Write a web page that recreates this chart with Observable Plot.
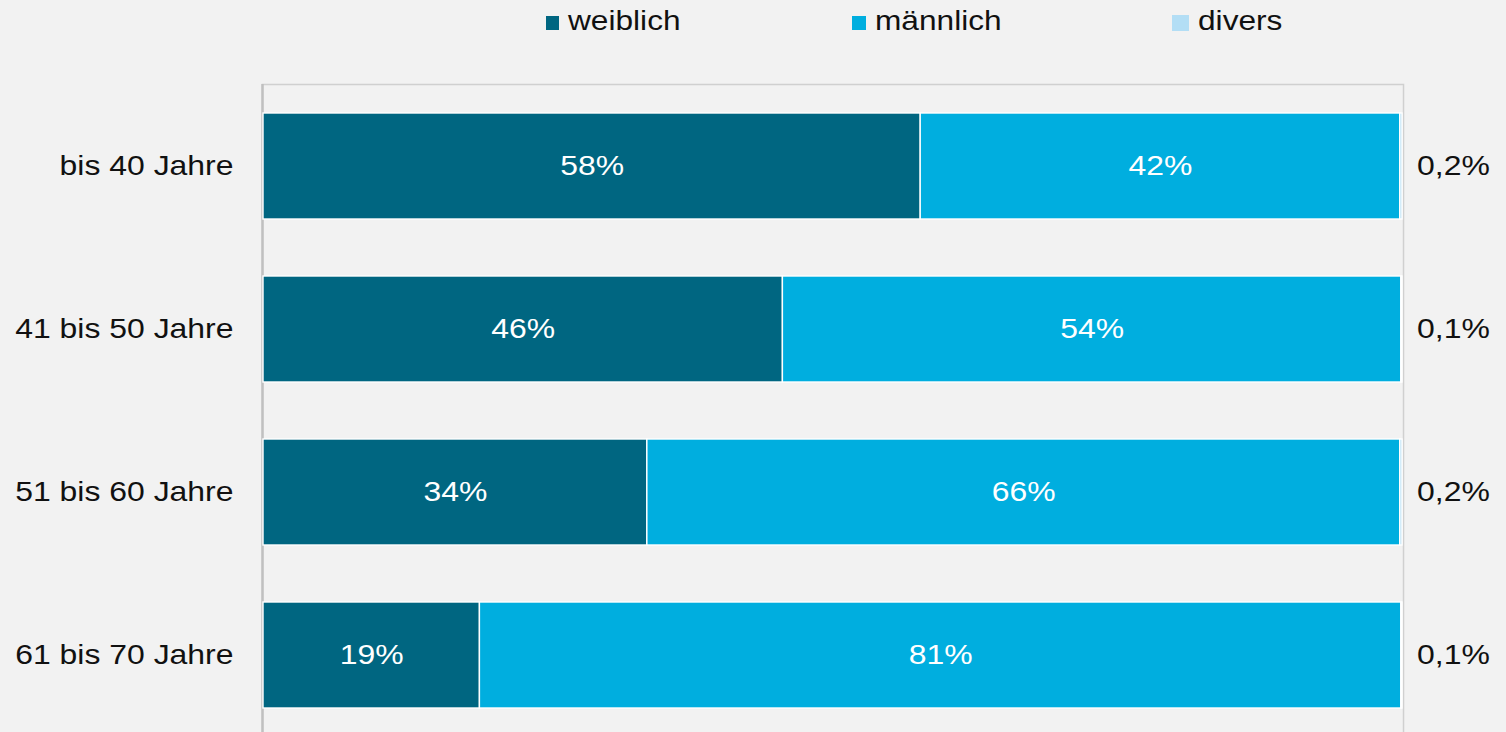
<!DOCTYPE html>
<html>
<head>
<meta charset="utf-8">
<script src="https://cdn.jsdelivr.net/npm/d3@7"></script>
<script src="https://cdn.jsdelivr.net/npm/@observablehq/plot@0.6"></script>
<style>
  html, body { margin: 0; padding: 0; background: #f2f2f2; overflow: hidden; }
  body { font-family: "Liberation Sans", Arial, sans-serif; width: 1506px; height: 732px; }
  #legend { position: relative; height: 60px; width: 1506px; }
  .item { position: absolute; top: 3px; height: 36px; display: flex; align-items: center; font-size: 28px; color: #111; }
  .sw { display: inline-block; margin-right: 9px; margin-top: 3px; }
  .lt { display: inline-block; transform: scaleX(1.13); transform-origin: 0 50%; }
  #chart svg { display: block; }
  #chart svg text { font-size: 28px; }
</style>
</head>
<body>
<div id="legend"></div>
<div id="chart"></div>
<script>
// Data
const ages = ["bis 40 Jahre", "41 bis 50 Jahre", "51 bis 60 Jahre", "61 bis 70 Jahre"];
const series = ["weiblich", "männlich", "divers"];
const weiblich = [57.7, 45.6, 33.7, 19.0];
const maennlich = [42.1, 54.3, 66.1, 80.9];
const divers = [0.2, 0.1, 0.2, 0.1];
const colors = ["#006681", "#00aedf", "#b3def5"];
const legendLeft = [546, 852, 1172];
const swatchW = [13, 14, 17];
const swatchH = [14, 14, 16];

const rows = [];
ages.forEach((a, i) => {
  rows.push({age: a, sex: "weiblich", value: weiblich[i]});
  rows.push({age: a, sex: "männlich", value: maennlich[i]});
  rows.push({age: a, sex: "divers", value: divers[i]});
});
const diversRows = ages.map((a, i) => ({age: a, value: divers[i]}));

// Legend
const legend = document.getElementById("legend");
series.forEach((s, i) => {
  const item = document.createElement("div");
  item.className = "item";
  item.style.left = legendLeft[i] + "px";
  const sw = document.createElement("span");
  sw.className = "sw";
  sw.style.background = colors[i];
  sw.style.width = swatchW[i] + "px";
  sw.style.height = swatchH[i] + "px";
  const t = document.createElement("span");
  t.className = "lt";
  t.textContent = s;
  item.appendChild(sw);
  item.appendChild(t);
  legend.appendChild(item);
});

const stackOpts = {order: series};

const chart = Plot.plot({
  width: 1506,
  height: 680,
  marginTop: 24,
  marginBottom: 4,
  marginLeft: 262,
  marginRight: 103,
  style: {background: "transparent", fontFamily: "'Liberation Sans', Arial, sans-serif", fontSize: "28px", color: "#111"},
  x: {domain: [0, 100], axis: null, insetLeft: 1, insetRight: 1},
  y: {domain: ages, paddingInner: 0.35, paddingOuter: 0.175, label: null, tickSize: 0, tickPadding: 29},
  color: {domain: series, range: colors},
  marks: [
    Plot.frame({stroke: "#d0d0d0", strokeWidth: 1.5}),
    Plot.ruleX([0], {stroke: "#c0c0c0", strokeWidth: 2.5, dx: -1}),
    Plot.barX(rows, Plot.stackX({...stackOpts, x: "value", y: "age", z: "sex", fill: "sex", stroke: "white", strokeWidth: 1.4})),
    Plot.text(rows, Plot.stackX({...stackOpts, x: "value", y: "age", z: "sex",
      text: d => d.sex === "divers" ? "" : Math.round(d.value) + "%",
      fill: "white", fontSize: 28})),
    Plot.text(diversRows, {x: 100, y: "age", text: d => String(d.value).replace(".", ",") + "%",
      dx: 51, textAnchor: "middle", fill: "#111", fontSize: 28})
  ]
});
document.getElementById("chart").appendChild(chart);

// Widen glyphs horizontally to match the reference's stretched lettering
chart.querySelectorAll("text").forEach(t => {
  const L = t.getComputedTextLength();
  if (L > 0) {
    t.setAttribute("textLength", (L * 1.14).toFixed(1));
    t.setAttribute("lengthAdjust", "spacingAndGlyphs");
  }
});
</script>
</body>
</html>
